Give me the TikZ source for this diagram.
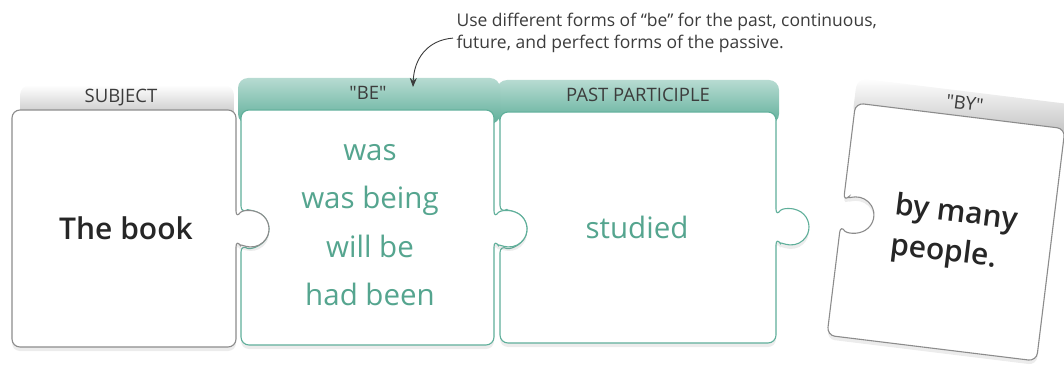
\documentclass[tikz,border=0pt]{standalone}
\usepackage{fontspec}
\setmainfont{Open Sans}[BoldFont={Open Sans Semibold}]
\usetikzlibrary{arrows.meta, shadows}
\definecolor{cteal}{HTML}{5FAF9A}
\definecolor{ctealtxt}{HTML}{55A58F}
\definecolor{cgrey}{HTML}{8C8C8C}
\definecolor{cink}{HTML}{3C3C3C}
\tikzset{
  every picture/.style={x=1pt, y=-1pt, line width=1.1pt},
  piece/.style={draw=#1, fill=white, rounded corners=8pt,
    drop shadow={shadow xshift=0pt, shadow yshift=-4pt, opacity=.15}},
  piece/.default=cgrey,
  greytab/.style={rounded corners=10pt, top color=white, bottom color=black!28},
  tealtab/.style={rounded corners=10pt, top color=cteal!45, bottom color=cteal},
  tablabel/.style={font=\fontsize{18.5}{18.5}\selectfont, text=cink},
  word/.style={font=\fontsize{30}{40}\selectfont\bfseries, text=black!85, align=center},
  tealword/.style={font=\fontsize{29.5}{48.5}\selectfont, text=ctealtxt, align=center},
  note/.style={font=\fontsize{17.5}{21.5}\selectfont, text=cink, align=left, inner sep=0pt},
  arrow/.style={-{Stealth[length=9pt, width=7pt]}, draw=cink, line width=0.9pt},
}

\begin{document}
\begin{tikzpicture}
  \useasboundingbox (0,0) rectangle (1064,374);

  % the loose "by" piece, tilted
  \begin{scope}[shift={(946,232)}, rotate=-7]
    \shade[greytab] (-107,-103) rectangle (118,-142);
    \draw[piece] (-105.5,-117) -- (105.5,-117) -- (105.5,117) -- (-105.5,117)
      -- (-105.5,5.3) arc[start angle=141.1, end angle=-141.1, radius=18] -- cycle;
    \node[tablabel, transform shape] (bylabel) at (3,-130) {\textquotedbl BY\textquotedbl};
    \node[word, align=left, transform shape] (bytext) at (8,1) {by many\\people.};
  \end{scope}

  % past participle
  \shade[tealtab] (497,124) rectangle (779,80);
  \draw[piece=cteal] (500,112) -- (776,112) -- (776,217)
    arc[start angle=-146.4, end angle=146.4, radius=18] -- (776,343) -- (500,343)
    -- (500,244.6) arc[start angle=120, end angle=-120, radius=18] -- cycle;
  \node[tablabel] (pplabel) at (638,95) {PAST PARTICIPLE};
  \node[tealword] (pp) at (637,227) {studied};

  % be
  \shade[tealtab] (238,124) rectangle (500,78);
  \draw[piece=cteal] (241,110) -- (494,110) -- (494,219)
    arc[start angle=-146.4, end angle=146.4, radius=18] -- (494,345) -- (241,345)
    -- (241,244) arc[start angle=123.7, end angle=-123.7, radius=18] -- cycle;
  \node[tablabel] (belabel) at (368,93) {\textquotedbl BE\textquotedbl};
  \node[tealword] (be) at (370,225) {was\\was being\\will be\\had been};

  % subject
  \shade[greytab] (20,124) rectangle (234,85);
  \draw[piece] (12,110) -- (236,110) -- (236,219)
    arc[start angle=-146.4, end angle=146.4, radius=18] -- (236,347) -- (12,347) -- cycle;
  \node[tablabel] (sublabel) at (121,98) {SUBJECT};
  \node[word] (sub) at (126,228) {The book};

  % remark on the forms of "be"
  \node[note, anchor=north west] (note) at (456,13)
    {Use different forms of ``be'' for the past, continuous,\\future, and perfect forms of the passive.};
  \coordinate (tip) at (413,87);
  \draw[arrow] ([xshift=-3pt, yshift=-5pt]note.west) .. controls (428,40) and (414,58) .. (tip);
\end{tikzpicture}
\end{document}
